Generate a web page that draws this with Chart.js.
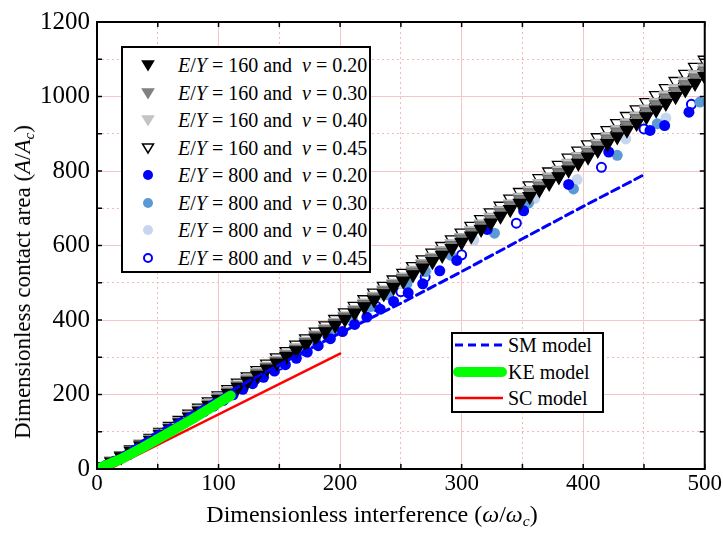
<!DOCTYPE html>
<html><head><meta charset="utf-8">
<script src="https://cdn.jsdelivr.net/npm/chart.js@4.4.1/dist/chart.umd.min.js"></script>
<style>
html,body{margin:0;padding:0;background:#fff;}
#wrap{position:relative;width:723px;height:534px;overflow:hidden;font-family:"Liberation Serif","Times New Roman",serif;color:#000;background:#fff;}
canvas{position:absolute;left:0;top:0;}
.box{position:absolute;background:#fff;border:2px solid #000;box-sizing:border-box;}
.t{position:absolute;white-space:nowrap;font-size:20px;line-height:20px;}
.m{position:absolute;}
.ax{position:absolute;white-space:nowrap;line-height:26px;}
sub{font-size:65%;vertical-align:-0.25em;line-height:0;}
</style></head>
<body>
<div id="wrap">
<canvas id="c" width="723" height="534"></canvas>
<div id="overlay"></div>
<div class="ax" style="font-size:24px;left:372px;top:514px;transform:translate(-50%,-50%);">Dimensionless interference (<i>ω</i>/<i>ω<sub>c</sub></i>)</div>
<div class="ax" style="font-size:23px;left:23px;top:282px;transform:translate(-50%,-50%) rotate(-90deg);">Dimensionless contact area (<i>A</i>/<i>A<sub>c</sub></i>)</div>
</div>
<script>
// ---------- data ----------
const x160 = [4,12,20,28,36,44,52,60,68,76,84,92,100,108,116,124,132,140,148,156,164,172,180,188,196,204,212,220,228,236,244,252,260,268,276,284,292,300,308,316,324,332,340,348,356,364,372,380,388,396,404,412,420,428,436,444,452,460,468,476,484,492,500];
const y160_020 = [6,19,33,48,62,77,93,108,124,139,155,171,187,203,220,236,252,269,285,302,318,335,352,369,386,402,419,436,454,471,488,505,522,540,557,574,592,609,626,644,661,679,697,714,732,750,767,785,803,821,838,856,874,892,910,928,946,964,982,1000,1018,1036,1054];
const y160_030 = [6,19,34,49,63,78,94,110,126,141,157,173,190,206,223,239,256,273,289,306,322,340,357,374,391,408,425,442,460,478,495,512,529,548,565,582,600,618,635,653,670,689,707,724,742,760,778,796,814,833,850,868,886,905,923,941,959,978,996,1014,1032,1050,1069];
const y160_040 = [7,20,35,50,65,80,96,112,128,144,160,176,193,209,226,243,259,276,292,309,326,343,360,377,394,411,428,446,464,481,499,516,534,552,569,587,605,622,640,658,676,694,712,730,748,767,784,802,821,839,856,875,893,912,930,948,967,985,1004,1022,1040,1059,1077];
const y160_045 = [7,21,36,52,67,83,99,115,131,148,164,181,197,214,231,248,265,282,299,316,333,350,368,385,402,420,437,455,473,491,508,526,544,562,580,598,616,634,652,670,688,706,725,743,761,780,798,816,835,854,871,890,909,928,947,965,984,1003,1022,1041,1060,1079,1098];

const x800_020 = [3,8,14,20,27,34,41,48,56,64,72,80,88,96,104,112,120,128,137,146,155,164,173,182,192,202,212,222,233,244,256,268,282,296,321,351,388,421,455,467,487];
const y800_020 = [3,11,20,30,42,55,67,80,95,110,124,139,154,169,184,199,214,229,246,263,280,297,314,331,350,369,388,408,429,450,473,497,532,560,643,693,764,851,909,922,958];
const x800_030 = [5,12,20,30,40,50,60,72,84,96,108,120,135,150,165,180,195,210,225,240,255,270,291,327,355,392,428,461,496];
const y800_030 = [6,18,31,48,67,86,105,128,152,175,199,223,253,283,313,344,374,405,436,467,498,530,574,633,714,752,842,927,985];
const x800_040 = [6,15,25,35,45,55,65,78,91,104,117,130,145,160,175,190,205,220,235,250,271,310,360,395,435,468];
const y800_040 = [8,23,41,59,78,98,118,144,170,196,222,248,278,309,340,371,402,434,466,498,533,614,726,777,886,942];
const x800_045 = [8,20,35,50,70,90,110,130,150,170,190,210,230,250,270,300,345,415,450,489];
const y800_045 = [10,31,58,86,124,163,201,240,279,318,357,397,436,476,515,575,660,810,913,979];

const smX = [0,50,100,150,200,250,300,350,400,450];
const smY = [0,100,192,280,365,445,530,618,705,790];
const keX = [0,20,40,60,80,100,110];
const keY = [0,27,62,99,137,177,197];
const scX = [10,200];
const scY = [0,310];

const xTickLabels = [0,100,200,300,400,500];
const yTickLabels = [0,200,400,600,800,1000,1200];

const legend1 = [
  {ev:'160', nu:'0.20', style:'tri', fill:'#000000', stroke:'#000000'},
  {ev:'160', nu:'0.30', style:'tri', fill:'#808080', stroke:'#808080'},
  {ev:'160', nu:'0.40', style:'tri', fill:'#c4c4c4', stroke:'#c4c4c4'},
  {ev:'160', nu:'0.45', style:'tri', fill:'#ffffff', stroke:'#000000'},
  {ev:'800', nu:'0.20', style:'cir', fill:'#0000ff', stroke:'#0000ff'},
  {ev:'800', nu:'0.30', style:'cir', fill:'#5b9bd5', stroke:'#5b9bd5'},
  {ev:'800', nu:'0.40', style:'cir', fill:'#c5d6ee', stroke:'#c5d6ee'},
  {ev:'800', nu:'0.45', style:'cir', fill:'#ffffff', stroke:'#0000ff'}
];
const legend2 = [
  {name:'SM model', color:'#0000ff', width:3, dash:'8,5'},
  {name:'KE model', color:'#00ff00', width:10, dash:''},
  {name:'SC model', color:'#ff0000', width:2.5, dash:''}
];

// ---------- build ----------
const pts = (xs, ys) => xs.map((x, i) => ({x, y: ys[i]}));
function triSet(label, ys, fill, stroke, order) {
  return {label, data: pts(x160, ys), pointStyle:'triangle', rotation:180, pointRadius:7.5,
    backgroundColor: fill, borderColor: stroke, borderWidth: 1.3, showLine:false, order};
}
function cirSet(label, xs, ys, fill, stroke, order, bw) {
  return {label, data: pts(xs, ys), pointStyle:'circle', pointRadius: bw ? 4.5 : 5.5,
    backgroundColor: fill, borderColor: stroke, borderWidth: bw, showLine:false, order};
}
function lineSet(label, xs, ys, color, width, dash, order) {
  return {label, data: pts(xs, ys), showLine:true, pointRadius:0, borderColor: color,
    backgroundColor: color, borderWidth: width, borderDash: dash, borderCapStyle:'round', fill:false, tension:0, order};
}

const datasets = [
  lineSet('KE model', keX, keY, '#00ff00', 10, [], 0),
  lineSet('SC model', scX, scY, '#ff0000', 2.5, [], 1),
  lineSet('SM model', smX, smY, '#0000ff', 3, [8,5], 2),
  triSet('E/Y=160 ν=0.20', y160_020, '#000000', '#000000', 3),
  triSet('E/Y=160 ν=0.30', y160_030, '#808080', '#6e6e6e', 4),
  triSet('E/Y=160 ν=0.40', y160_040, '#c4c4c4', '#b0b0b0', 5),
  triSet('E/Y=160 ν=0.45', y160_045, '#ffffff', '#000000', 6),
  cirSet('E/Y=800 ν=0.20', x800_020, y800_020, '#0000ff', '#0000ff', 7, 0),
  cirSet('E/Y=800 ν=0.30', x800_030, y800_030, '#5b9bd5', '#5b9bd5', 8, 0),
  cirSet('E/Y=800 ν=0.40', x800_040, y800_040, '#c5d6ee', '#c5d6ee', 9, 0),
  cirSet('E/Y=800 ν=0.45', x800_045, y800_045, '#ffffff', '#0000ff', 10, 2)
];

const framePlugin = {
  id: 'frame',
  afterDraw(chart) {
    const {ctx, chartArea: a, scales: {x, y}} = chart;
    ctx.save();
    ctx.strokeStyle = '#000';
    ctx.lineWidth = 1.5;
    ctx.beginPath();
    x.ticks.forEach(t => {
      const p = x.getPixelForValue(t.value);
      ctx.moveTo(p, a.bottom); ctx.lineTo(p, a.bottom - 5);
      ctx.moveTo(p, a.top); ctx.lineTo(p, a.top + 5);
    });
    y.ticks.forEach(t => {
      const p = y.getPixelForValue(t.value);
      ctx.moveTo(a.left, p); ctx.lineTo(a.left + 5, p);
      ctx.moveTo(a.right, p); ctx.lineTo(a.right - 5, p);
    });
    ctx.stroke();
    ctx.lineWidth = 2;
    ctx.strokeRect(a.left, a.top, a.right - a.left, a.bottom - a.top);
    ctx.restore();
  }
};

const serif = '"Liberation Serif","Times New Roman",serif';
const chart = new Chart(document.getElementById('c'), {
  type: 'scatter',
  data: {datasets},
  options: {
    responsive: false, animation: false, devicePixelRatio: 1,
    layout: {padding: {left: 0, top: 21, right: 18, bottom: 0}},
    plugins: {legend: {display: false}, tooltip: {enabled: false}},
    scales: {
      x: {
        type: 'linear', min: 0, max: 500,
        afterFit: s => { s.height = 65; },
        ticks: {stepSize: 50, autoSkip: false, maxRotation: 0, padding: 1, color: '#000',
          font: {family: serif, size: 23},
          callback: v => xTickLabels.includes(v) ? String(v) : ''},
        grid: {drawTicks: false, lineWidth: 1,
          color: c => (c.tick && xTickLabels.includes(c.tick.value)) ? '#f6c6c6' : '#f3b9b9'},
        border: {display: false, dash: c => (c.tick && xTickLabels.includes(c.tick.value)) ? [] : [2, 3]}
      },
      y: {
        type: 'linear', min: 0, max: 1200,
        afterFit: s => { s.width = 97; },
        ticks: {stepSize: 100, autoSkip: false, padding: 7, color: '#000',
          font: {family: serif, size: 25},
          callback: v => yTickLabels.includes(v) ? String(v) : ''},
        grid: {drawTicks: false, lineWidth: 1,
          color: c => (c.tick && yTickLabels.includes(c.tick.value)) ? '#f6c6c6' : '#f3b9b9'},
        border: {display: false, dash: c => (c.tick && yTickLabels.includes(c.tick.value)) ? [] : [2, 3]}
      }
    }
  },
  plugins: [framePlugin]
});

// ---------- legends (HTML overlay) ----------
const ov = document.getElementById('overlay');
let html = '<div class="box" style="left:121px;top:46px;width:250px;height:227px;"></div>';
legend1.forEach((r, i) => {
  const cy = 65 + 27.5 * i;
  let svg;
  if (r.style === 'tri') {
    svg = `<svg class="m" width="14" height="14" style="left:141px;top:${cy-7}px"><polygon points="1.5,3 12.5,3 7,12" fill="${r.fill}" stroke="${r.stroke}" stroke-width="1.5"/></svg>`;
  } else {
    const sw = r.fill === '#ffffff' ? 2 : 0;
    svg = `<svg class="m" width="14" height="14" style="left:141px;top:${cy-7}px"><circle cx="7" cy="7" r="${sw ? 4 : 5}" fill="${r.fill}" stroke="${r.stroke}" stroke-width="${sw}"/></svg>`;
  }
  html += svg + `<div class="t" style="left:178px;top:${cy-10}px"><i>E</i>/<i>Y</i> = ${r.ev} and&nbsp; <i>ν</i> = ${r.nu}</div>`;
});
html += '<div class="box" style="left:451px;top:332px;width:153px;height:81px;"></div>';
legend2.forEach((r, i) => {
  const cy = 345 + 26.7 * i;
  html += `<svg class="m" width="56" height="14" style="left:452px;top:${cy-7}px"><line x1="${r.width>5?6:3}" y1="7" x2="${r.width>5?50:51}" y2="7" stroke="${r.color}" stroke-width="${r.width}" stroke-linecap="${r.width>5?'round':'butt'}" ${r.dash ? `stroke-dasharray="${r.dash}"` : ''}/></svg>`;
  html += `<div class="t" style="left:508px;top:${cy-10}px">${r.name}</div>`;
});
ov.innerHTML = html;
</script>
</body></html>
